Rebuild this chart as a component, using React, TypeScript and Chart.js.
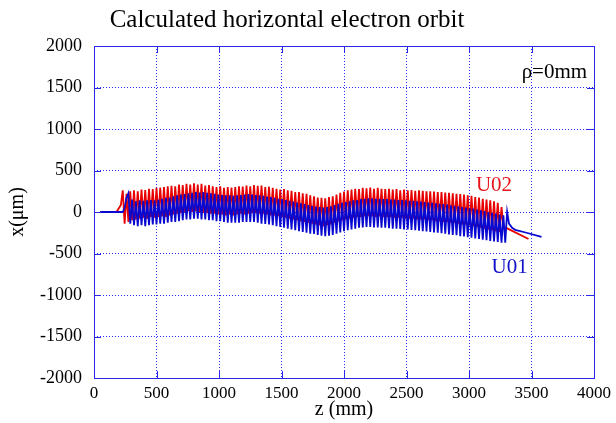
import React, { useEffect, useRef } from "react";
import { Chart, registerables } from "chart.js";
Chart.register(...registerables);

// ---- data ----
const chartTitle = "Calculated horizontal electron orbit";
const xTicksMax = 4000;
const yLimit = 2000;

const redLeadZ = [50, 180, 215];
const redLeadX = [0, 0, 85];
const blueLeadZ = [50, 215];
const blueLeadX = [0, 0];

// shared sampling positions of the oscillating part (mm)
const zOsc = [
  230, 245, 260, 275, 290, 305, 320, 335, 350, 365, 380, 395, 410, 425, 440, 455, 470, 485, 500, 515,
  530, 545, 560, 575, 590, 605, 620, 635, 650, 665, 680, 695, 710, 725, 740, 755, 770, 785, 800, 815,
  830, 845, 860, 875, 890, 905, 920, 935, 950, 965, 980, 995, 1010, 1025, 1040, 1055, 1070, 1085, 1100, 1115,
  1130, 1145, 1160, 1175, 1190, 1205, 1220, 1235, 1250, 1265, 1280, 1295, 1310, 1325, 1340, 1355, 1370, 1385, 1400, 1415,
  1430, 1445, 1460, 1475, 1490, 1505, 1520, 1535, 1550, 1565, 1580, 1595, 1610, 1625, 1640, 1655, 1670, 1685, 1700, 1715,
  1730, 1745, 1760, 1775, 1790, 1805, 1820, 1835, 1850, 1865, 1880, 1895, 1910, 1925, 1940, 1955, 1970, 1985, 2000, 2015,
  2030, 2045, 2060, 2075, 2090, 2105, 2120, 2135, 2150, 2165, 2180, 2195, 2210, 2225, 2240, 2255, 2270, 2285, 2300, 2315,
  2330, 2345, 2360, 2375, 2390, 2405, 2420, 2435, 2450, 2465, 2480, 2495, 2510, 2525, 2540, 2555, 2570, 2585, 2600, 2615,
  2630, 2645, 2660, 2675, 2690, 2705, 2720, 2735, 2750, 2765, 2780, 2795, 2810, 2825, 2840, 2855, 2870, 2885, 2900, 2915,
  2930, 2945, 2960, 2975, 2990, 3005, 3020, 3035, 3050, 3065, 3080, 3095, 3110, 3125, 3140, 3155, 3170, 3185, 3200, 3215,
  3230, 3245, 3260, 3275, 3290,
];

// U02 (red) horizontal orbit, µm
const redOsc = [
  260, -140, 220, -120, 250, -100, 260, -90, 250, -80, 270, -70, 265, -80, 280, -60, 275, -70, 290, -60,
  295, -50, 300, -60, 310, -40, 315, -30, 310, -20, 330, -10, 325, 0, 340, 10, 330, 0, 345, 10,
  330, 0, 340, -10, 320, -10, 325, -20, 310, -20, 300, -30, 310, -30, 290, -40, 300, -30, 295, -40,
  300, -30, 310, -20, 305, -30, 320, -20, 310, -10, 325, -10, 315, -20, 320, -20, 300, -30, 305, -40,
  290, -40, 280, -50, 270, -60, 275, -70, 260, -80, 255, -90, 240, -100, 240, -110, 225, -120, 220, -130,
  200, -140, 190, -150, 175, -160, 170, -170, 165, -160, 180, -150, 190, -130, 210, -110, 230, -100, 245, -90,
  260, -80, 270, -70, 280, -60, 275, -60, 290, -50, 285, -50, 295, -50, 280, -60, 290, -50, 280, -60,
  275, -60, 280, -60, 270, -70, 275, -70, 260, -70, 270, -80, 260, -80, 265, -80, 255, -90, 260, -90,
  255, -90, 250, -100, 250, -100, 245, -110, 240, -110, 240, -120, 235, -120, 230, -130, 225, -130, 220, -140,
  215, -150, 210, -150, 200, -160, 195, -170, 180, -180, 175, -190, 160, -200, 150, -210, 140, -220, 130, -230,
  110, -240, 60, -170, -185,
];

// U01 (blue) horizontal orbit, µm
const blueOsc = [
  0, 50, 170, 225, -140, 150, -160, 130, -170, 140, -160, 135, -170, 140, -160, 145, -150, 140, -150, 150,
  -140, 160, -140, 170, -130, 175, -120, 190, -120, 200, -110, 210, -100, 215, -90, 225, -90, 230, -80, 240,
  -80, 235, -90, 240, -90, 230, -100, 225, -100, 220, -110, 210, -110, 205, -120, 200, -130, 200, -130, 195,
  -130, 200, -130, 205, -120, 210, -120, 215, -120, 210, -120, 205, -130, 200, -140, 195, -145, 185, -150, 180,
  -160, 170, -170, 160, -180, 155, -190, 145, -200, 135, -210, 125, -220, 115, -230, 105, -240, 95, -250, 85,
  -260, 75, -265, 65, -275, 60, -285, 55, -290, 60, -285, 70, -275, 85, -260, 100, -245, 110, -230, 120,
  -220, 130, -210, 140, -200, 145, -190, 155, -185, 160, -180, 165, -180, 165, -185, 160, -185, 160, -190, 155,
  -190, 155, -195, 150, -200, 150, -200, 145, -205, 145, -210, 140, -210, 135, -215, 135, -220, 130, -225, 125,
  -230, 120, -235, 115, -240, 110, -245, 105, -250, 100, -255, 95, -260, 90, -270, 80, -275, 75, -280, 70,
  -290, 60, -295, 55, -305, 45, -310, 40, -320, 30, -325, 20, -335, 10, -340, 0, -350, -10, -355, -20,
  -360, -30, -370, -40, -370,
];

const redTailZ = [3476];
const redTailX = [-325];
const blueTailZ = [3305, 3320, 3345, 3370, 3460, 3580];
const blueTailX = [0, -140, -190, -215, -250, -300];

const labels = [
  { text: "ρ=0mm", z: 3945, x: 1675, color: "#000000", align: "right" },
  { text: "U02", z: 3200, x: 325, color: "#e8141c", align: "center" },
  { text: "U01", z: 3325, x: -663, color: "#1010c8", align: "center" },
];

const SERIF = "'Liberation Serif', 'Times New Roman', serif";

function pts(zs: number[], xs: number[]) {
  return zs.map((z, i) => ({ x: z, y: xs[i] }));
}

const framePlugin = {
  id: "frameAndLabels",
  afterDraw(chart: any) {
    const { ctx, chartArea, scales } = chart;
    const xs = scales.x;
    const ys = scales.y;
    ctx.save();
    ctx.strokeStyle = "#2828e6";
    ctx.lineWidth = 1;
    ctx.strokeRect(chartArea.left + 0.5, chartArea.top + 0.5, chartArea.right - chartArea.left, chartArea.bottom - chartArea.top);
    const tl = 7;
    ctx.beginPath();
    xs.ticks.forEach((t: any) => {
      const p = Math.round(xs.getPixelForValue(t.value)) + 0.5;
      ctx.moveTo(p, chartArea.bottom);
      ctx.lineTo(p, chartArea.bottom - tl);
      ctx.moveTo(p, chartArea.top);
      ctx.lineTo(p, chartArea.top + tl);
    });
    ys.ticks.forEach((t: any) => {
      const p = Math.round(ys.getPixelForValue(t.value)) + 0.5;
      ctx.moveTo(chartArea.left, p);
      ctx.lineTo(chartArea.left + tl, p);
      ctx.moveTo(chartArea.right, p);
      ctx.lineTo(chartArea.right - tl, p);
    });
    ctx.stroke();
    ctx.font = "21px " + SERIF;
    ctx.textBaseline = "middle";
    labels.forEach((l) => {
      ctx.fillStyle = l.color;
      ctx.textAlign = l.align as CanvasTextAlign;
      ctx.fillText(l.text, xs.getPixelForValue(l.z), ys.getPixelForValue(l.x));
    });
    // chart title
    ctx.fillStyle = "#000";
    ctx.font = "25px " + SERIF;
    ctx.textAlign = "center";
    ctx.textBaseline = "middle";
    ctx.fillText(chartTitle, 287, 20);
    ctx.restore();
  },
};

export default function App() {
  const ref = useRef<HTMLCanvasElement | null>(null);
  useEffect(() => {
    if (!ref.current) return;
    const chart = new Chart(ref.current, {
      type: "line",
      data: {
        datasets: [
          {
            label: "U01",
            data: pts([...blueLeadZ, ...zOsc, ...blueTailZ], [...blueLeadX, ...blueOsc, ...blueTailX]),
            borderColor: "#0808d0",
            borderWidth: 1.8,
            pointRadius: 0,
            tension: 0,
            fill: false,
          },
          {
            label: "U02",
            data: pts([...redLeadZ, ...zOsc, ...redTailZ], [...redLeadX, ...redOsc, ...redTailX]),
            borderColor: "#e80000",
            borderWidth: 1.8,
            pointRadius: 0,
            tension: 0,
            fill: false,
          },
        ],
      },
      options: {
        animation: false,
        responsive: false,
        layout: { padding: { left: 0, right: 18, top: 46, bottom: 0 } },
        plugins: {
          legend: { display: false },
          tooltip: { enabled: false },
          title: { display: false },
        },
        scales: {
          x: {
            type: "linear",
            min: 0,
            max: xTicksMax,
            ticks: {
              stepSize: 500, color: "#000", font: { family: SERIF, size: 17 }, padding: 5, maxRotation: 0,
              callback: (v: any) => String(v),
            },
            grid: { color: "rgba(20,20,255,0.9)", drawTicks: false, lineWidth: 1 },
            border: { display: false, dash: [1, 2] },
            title: { display: true, text: "z (mm)", color: "#000", font: { family: SERIF, size: 20 }, padding: { top: 0, bottom: 1 } },
            afterFit(s: any) { s.height = 45; },
          },
          y: {
            type: "linear",
            min: -yLimit,
            max: yLimit,
            ticks: {
              stepSize: 500, color: "#000", font: { family: SERIF, size: 18 }, padding: 12,
              callback: (v: any) => String(v),
            },
            grid: { color: "rgba(20,20,255,0.9)", drawTicks: false, lineWidth: 1 },
            border: { display: false, dash: [1, 2] },
            title: { display: true, text: "x(μm)", color: "#000", font: { family: SERIF, size: 20 }, padding: { top: 6, bottom: 0 } },
            afterFit(s: any) { s.width = 94; },
          },
        },
      },
      plugins: [framePlugin],
    });
    return () => chart.destroy();
  }, []);
  return (
    <div style={{ position: "fixed", left: 0, top: 0, width: 616, height: 423, background: "#fff" }}>
      <canvas ref={ref} width={616} height={423} />
    </div>
  );
}
